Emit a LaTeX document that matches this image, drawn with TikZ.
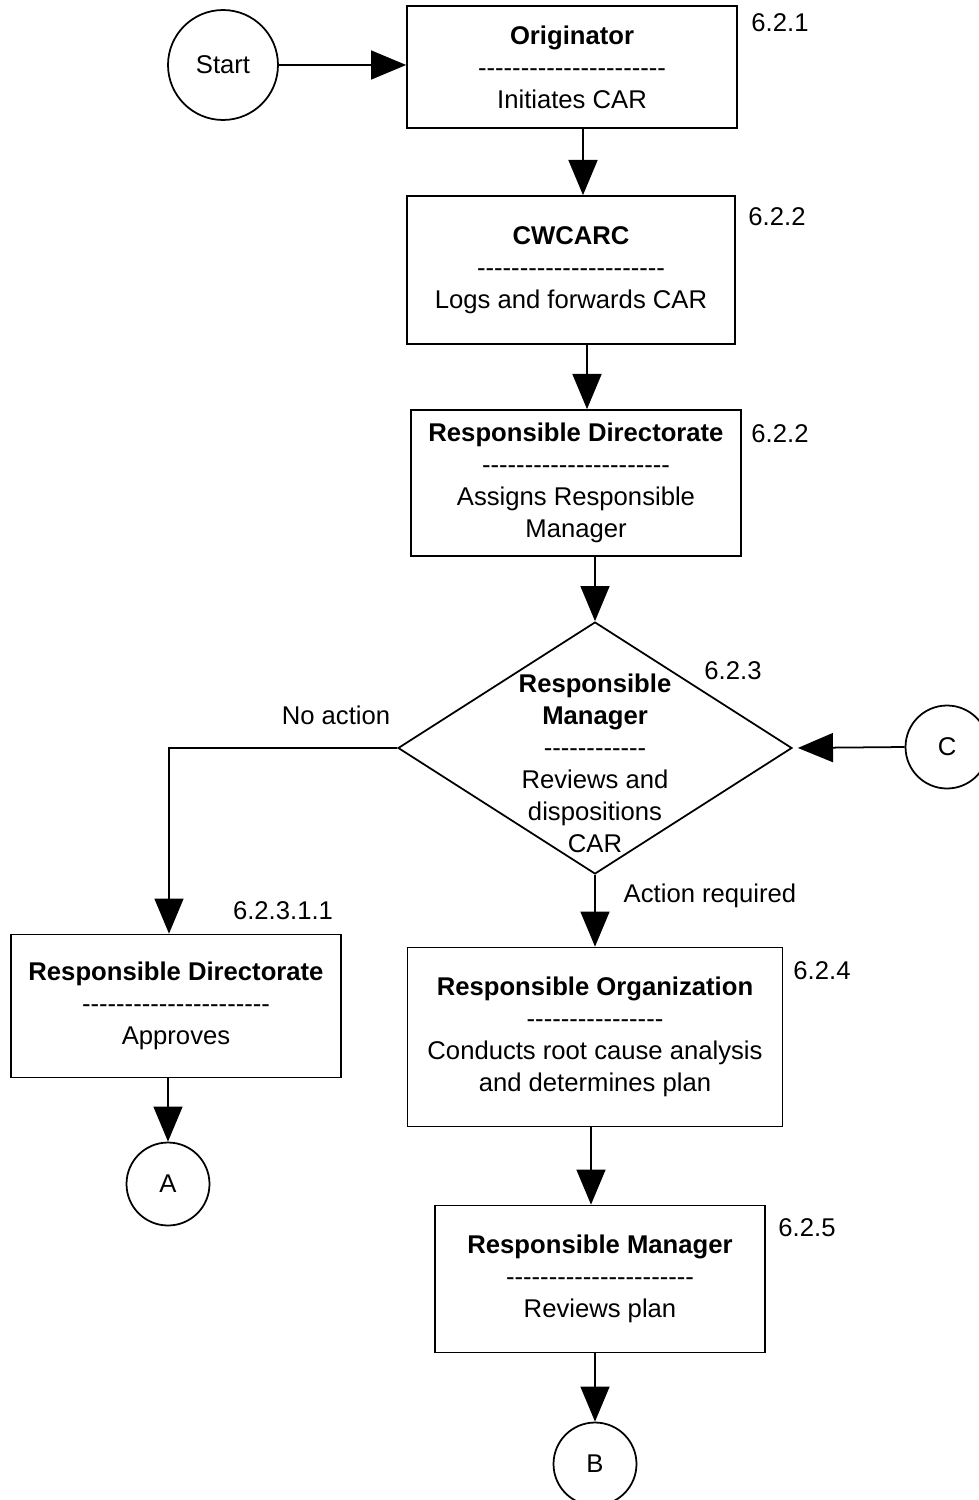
\documentclass[tikz,border=0pt]{standalone}
\usepackage{fontspec}
\setmainfont{Liberation Sans}
\usetikzlibrary{shapes.geometric,arrows.meta,calc}
\newcommand{\sepline}[1]{\foreach \k in {1,...,#1}{-\kern0pt}}
\begin{document}
\begin{tikzpicture}[
        x=0.02cm, y=-0.02cm,
        line width=1pt,
        font=\fontsize{14.6}{18.2}\selectfont
    ]
    \tikzset{
        procbox/.style = {rectangle, draw=black, align=center, inner sep=0pt},
        conncirc/.style = {circle, draw=black, align=center, inner sep=0pt, minimum size=1.66cm},
        decision/.style = {diamond, draw=black, inner sep=0pt, minimum width=7.88cm, minimum height=5.04cm},
        numlbl/.style = {anchor=base, inner sep=0pt},
        arr/.style = {-{Triangle[length=20pt,width=16.5pt]}},
    }
    \useasboundingbox (0,0) rectangle (978,1500);
    \node[conncirc, minimum size=2.2cm] at (223,65) (start) {Start};
    \node[procbox, minimum width=6.6cm, minimum height=2.44cm] at (572,67) (orig)
        {\textbf{Originator}\\\sepline{22}\\Initiates CAR};
    \node[procbox, minimum width=6.56cm, minimum height=2.96cm] at (571,270) (cwc)
        {\textbf{CWCARC}\\\sepline{22}\\Logs and forwards CAR};
    \node[procbox, minimum width=6.6cm, minimum height=2.92cm] at (576,483) (dir)
        {\textbf{Responsible Directorate}\\\sepline{22}\\Assigns Responsible\\Manager};
    \node[decision] at (595,748) (rm) {};
    \node[align=center, inner sep=0pt] at (595,763) (rmtext)
        {\textbf{Responsible}\\\textbf{Manager}\\\sepline{12}\\Reviews and\\dispositions\\CAR};
    \node[conncirc] at (947,747) (c) {C};
    \node[procbox, minimum width=6.6cm, minimum height=2.86cm] at (176,1006) (appr)
        {\textbf{Responsible Directorate}\\\sepline{22}\\Approves};
    \node[conncirc] at (168,1184) (a) {A};
    \node[procbox, minimum width=7.5cm, minimum height=3.58cm] at (595,1037) (org)
        {\textbf{Responsible Organization}\\\sepline{16}\\Conducts root cause analysis\\and determines plan};
    \node[procbox, minimum width=6.6cm, minimum height=2.94cm] at (600,1279) (rmgr)
        {\textbf{Responsible Manager}\\\sepline{22}\\Reviews plan};
    \node[conncirc] at (595,1464) (b) {B};
    %
    \node[numlbl] at (780,32) (n1) {6.2.1};
    \node[numlbl] at (777,226) (n2) {6.2.2};
    \node[numlbl] at (780,442) (n3) {6.2.2};
    \node[numlbl] at (733,679) (n4) {6.2.3};
    \node[numlbl] at (283,919) (n5) {6.2.3.1.1};
    \node[numlbl] at (822,979) (n6) {6.2.4};
    \node[numlbl] at (807,1236) (n7) {6.2.5};
    \node[numlbl] at (336,724) (noact) {No action};
    \node[numlbl] at (710,902) (actreq) {Action required};
    %
    \draw[arr] (start.east) -- (start.east -| orig.west);
    \draw[arr] ($(orig.south)+(11,0)$) -- ($(cwc.north)+(12,0)$);
    \draw[arr] ($(cwc.south)+(16,0)$) -- ($(dir.north)+(11,0)$);
    \draw[arr] (dir.south -| rm.north) -- (rm.north);
    %
    \draw[arr] (rm.west) -| ($(appr.north)+(-7,0)$);
    \draw[arr] (appr.south -| a.north) -- (a.north);
    \draw[arr, shorten >=0.1cm] (c.west) -- (rm.east);
    %
    \draw[arr] (rm.south) -- (rm.south |- org.north);
    \draw[arr] ($(org.south)+(-4,0)$) -- ($(rmgr.north)+(-9,0)$);
    \draw[arr] (rmgr.south -| b.north) -- (b.north);
\end{tikzpicture}
\end{document}
